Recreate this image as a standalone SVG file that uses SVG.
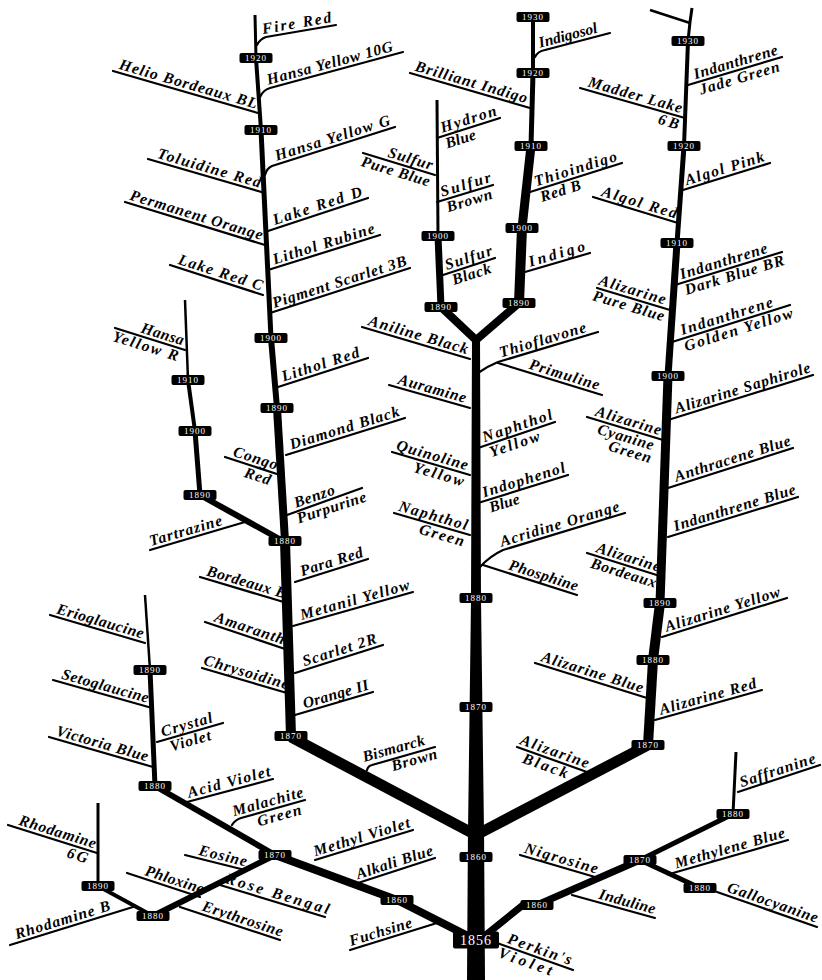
<svg xmlns="http://www.w3.org/2000/svg" width="822" height="980" viewBox="0 0 822 980">
<style>
.ln{fill:none;stroke:#000;stroke-width:2.2;stroke-linecap:round;stroke-linejoin:round}
.lb{font-family:"Liberation Serif",serif;font-style:italic;font-weight:bold;font-size:15.5px;fill:#000;text-anchor:middle}
.yr rect{fill:#000}
.yr text{font-family:"Liberation Serif",serif;font-size:9px;fill:#fff;text-anchor:middle;letter-spacing:1px}
</style>
<rect width="822" height="980" fill="#fff"/>
<g id="connectors" fill="none" stroke="#000" stroke-linecap="butt" stroke-linejoin="round">
<polygon points="467,980 485,980 484,826 468,826" fill="#000" stroke="none"/>
<polygon points="468,832 484,832 481,600 480,336 472,336 471,600" fill="#000" stroke="none"/>
<path d="M474 834 L291 737" stroke-width="11"/>
<path d="M478 834 L648 745" stroke-width="11"/>
<path d="M476 340 L441 307" stroke-width="8"/>
<path d="M476 340 L519 303" stroke-width="8"/>
<path d="M441 307 L438 236" stroke-width="7"/>
<path d="M438 236 L437 100" stroke-width="3"/>
<path d="M519 303 L522 228" stroke-width="10"/>
<path d="M522 228 L531 146" stroke-width="9"/>
<path d="M531 146 L533 73" stroke-width="5"/>
<path d="M533 73 L533 17" stroke-width="4"/>
<path d="M648 745 L653 660" stroke-width="10"/>
<path d="M653 660 L660 603" stroke-width="10"/>
<path d="M660 603 L668 376" stroke-width="9"/>
<path d="M668 376 L677 243" stroke-width="7"/>
<path d="M677 243 L684 146" stroke-width="5"/>
<path d="M684 146 L688 41" stroke-width="4"/>
<path d="M688 41 L690 22 L692 8" stroke-width="3"/>
<path d="M650 10 L690 23" stroke-width="2.5"/>
<path d="M291 736 L285 541" stroke-width="10"/>
<path d="M285 541 L277 408" stroke-width="8"/>
<path d="M277 408 L271 338" stroke-width="6"/>
<path d="M271 338 L261 130" stroke-width="5"/>
<path d="M261 130 L256 58" stroke-width="4"/>
<path d="M256 58 L255 15" stroke-width="3"/>
<path d="M283 541 L200 495" stroke-width="6"/>
<path d="M200 495 L195 431" stroke-width="5"/>
<path d="M195 431 L188 380" stroke-width="4"/>
<path d="M188 380 L185 300" stroke-width="2.5"/>
<path d="M470 937 L397 900 L275 855" stroke-width="8"/>
<path d="M275 855 L153 916" stroke-width="6"/>
<path d="M153 916 L98 886" stroke-width="4"/>
<path d="M98 886 L98 803" stroke-width="3"/>
<path d="M275 855 L155 786" stroke-width="6"/>
<path d="M155 786 L150 670" stroke-width="5"/>
<path d="M150 670 L145 595" stroke-width="2.5"/>
<path d="M482 938 L523 905 L537 905 L640 860" stroke-width="7"/>
<path d="M640 860 L733 814" stroke-width="5"/>
<path d="M733 814 L736 752" stroke-width="3"/>
<path d="M640 860 L700 888" stroke-width="5"/>
</g>
<g id="fire-red"><path class="ln" d="M257 45 Q260 39 266 37 L336 25"/><text class="lb" transform="translate(298 31.5) rotate(-9.7)" y="-3.5" textLength="70">Fire Red</text></g>
<g id="hansa-yellow-10g"><path class="ln" d="M260 97 Q263 90 270 88 L403 52"/><text class="lb" transform="translate(332 71.2) rotate(-15.1)" y="-3.5" textLength="130">Hansa Yellow 10G</text></g>
<g id="helio-bordeaux-bl"><path class="ln" d="M113 71 L258 113"/><text class="lb" transform="translate(186 92.1) rotate(16.2)" y="-3.5" textLength="143">Helio Bordeaux BL</text></g>
<g id="hansa-yellow-g"><path class="ln" d="M265 175 Q267 168 272 166 L395 127"/><text class="lb" transform="translate(335 146) rotate(-17.6)" y="-3.5" textLength="120">Hansa Yellow G</text></g>
<g id="toluidine-red"><path class="ln" d="M148 159 L265 193"/><text class="lb" transform="translate(207 176.1) rotate(16.2)" y="-3.5" textLength="107">Toluidine Red</text></g>
<g id="lake-red-d"><path class="ln" d="M268 231 L368 198"/><text class="lb" transform="translate(320 213.8) rotate(-18.3)" y="-3.5" textLength="93">Lake Red D</text></g>
<g id="permanent-orange"><path class="ln" d="M125 202 L265 245"/><text class="lb" transform="translate(194 223.2) rotate(17.1)" y="-3.5" textLength="138">Permanent Orange</text></g>
<g id="lithol-rubine"><path class="ln" d="M268 270 L380 235"/><text class="lb" transform="translate(326 251.9) rotate(-17.4)" y="-3.5" textLength="106">Lithol Rubine</text></g>
<g id="lake-red-c"><path class="ln" d="M170 265 L263 295"/><text class="lb" transform="translate(218 280.5) rotate(17.9)" y="-3.5" textLength="88">Lake Red C</text></g>
<g id="pigment-scarlet-3b"><path class="ln" d="M270 313 L410 268"/><text class="lb" transform="translate(342 289.9) rotate(-17.8)" y="-3.5" textLength="140">Pigment Scarlet 3B</text></g>
<g id="lithol-red"><path class="ln" d="M278 387 L368 358"/><text class="lb" transform="translate(323 372.5) rotate(-17.9)" y="-3.5" textLength="81">Lithol Red</text></g>
<g id="diamond-black"><path class="ln" d="M286 455 L405 418"/><text class="lb" transform="translate(347 436) rotate(-17.3)" y="-3.5" textLength="114">Diamond Black</text></g>
<g id="congo-red"><path class="ln" d="M225 457 L280 475"/><text class="lb" transform="translate(253 466.2) rotate(18.1)" y="-3.5" textLength="46">Congo</text><text class="lb" transform="translate(260 468.5) rotate(18.1)" y="13" textLength="27">Red</text></g>
<g id="benzo-purpurine"><path class="ln" d="M287 515 L362 488"/><text class="lb" transform="translate(317 504.2) rotate(-19)" y="-3.5" textLength="42">Benzo</text><text class="lb" transform="translate(329 499.9) rotate(-18)" y="13" textLength="72">Purpurine</text></g>
<g id="para-red"><path class="ln" d="M295 582 L368 559"/><text class="lb" transform="translate(334 569.7) rotate(-17.5)" y="-3.5" textLength="65">Para Red</text></g>
<g id="bordeaux-b"><path class="ln" d="M200 577 L287 603"/><text class="lb" transform="translate(244 590.2) rotate(16.6)" y="-3.5" textLength="82">Bordeaux B</text></g>
<g id="metanil-yellow"><path class="ln" d="M293 626 L413 592"/><text class="lb" transform="translate(357 607.9) rotate(-15.8)" y="-3.5" textLength="113">Metanil Yellow</text></g>
<g id="amaranth"><path class="ln" d="M205 622 L288 650"/><text class="lb" transform="translate(247 636.2) rotate(18.6)" y="-3.5" textLength="73">Amaranth</text></g>
<g id="scarlet-2r"><path class="ln" d="M295 673 L383 645"/><text class="lb" transform="translate(342 658) rotate(-17.7)" y="-3.5" textLength="77">Scarlet 2R</text></g>
<g id="chrysoidine"><path class="ln" d="M202 668 L287 693"/><text class="lb" transform="translate(244 680.3) rotate(16.4)" y="-3.5" textLength="88">Chrysoidine</text></g>
<g id="orange-ii"><path class="ln" d="M295 715 L373 692"/><text class="lb" transform="translate(338 702.3) rotate(-16.4)" y="-3.5" textLength="68">Orange II</text></g>
<g id="hansa-yellow-r"><path class="ln" d="M115 328 L185 350"/><text class="lb" transform="translate(160 342.2) rotate(17.4)" y="-3.5" textLength="44">Hansa</text><text class="lb" transform="translate(148 338.4) rotate(17.4)" y="13" textLength="68">Yellow R</text></g>
<g id="tartrazine"><path class="ln" d="M150 550 L245 522"/><text class="lb" transform="translate(188 538.8) rotate(-16.4)" y="-3.5" textLength="75">Tartrazine</text></g>
<g id="aniline-black"><path class="ln" d="M362 327 L470 359"/><text class="lb" transform="translate(416 343) rotate(16.5)" y="-3.5" textLength="103">Aniline Black</text></g>
<g id="thioflavone"><path class="ln" d="M478 373 Q488 366 498 362 L598 332"/><text class="lb" transform="translate(545 348) rotate(-16.7)" y="-3.5" textLength="90">Thioflavone</text></g>
<g id="primuline"><path class="ln" d="M498 363 L602 395"/><text class="lb" transform="translate(562 382.7) rotate(17.1)" y="-3.5" textLength="73">Primuline</text></g>
<g id="auramine"><path class="ln" d="M389 385 L470 408"/><text class="lb" transform="translate(430 396.6) rotate(15.9)" y="-3.5" textLength="70">Auramine</text></g>
<g id="naphthol-yellow"><path class="ln" d="M478 448 L555 422"/><text class="lb" transform="translate(520 433.8) rotate(-18.7)" y="-3.5" textLength="73">Naphthol</text><text class="lb" transform="translate(512 436.5) rotate(-18.7)" y="13" textLength="52">Yellow</text></g>
<g id="quinoline-yellow"><path class="ln" d="M392 452 L470 475"/><text class="lb" transform="translate(430 463.2) rotate(16.4)" y="-3.5" textLength="74">Quinoline</text><text class="lb" transform="translate(441 466.5) rotate(16.4)" y="13" textLength="52">Yellow</text></g>
<g id="indophenol-blue"><path class="ln" d="M478 503 L568 475"/><text class="lb" transform="translate(526 488) rotate(-17.3)" y="-3.5" textLength="86">Indophenol</text><text class="lb" transform="translate(502 495.5) rotate(-17.3)" y="13" textLength="31">Blue</text></g>
<g id="naphthol-green"><path class="ln" d="M394 513 L470 535"/><text class="lb" transform="translate(431 523.7) rotate(16.1)" y="-3.5" textLength="71">Naphthol</text><text class="lb" transform="translate(444 527.4) rotate(16.1)" y="13" textLength="46">Green</text></g>
<g id="acridine-orange"><path class="ln" d="M480 567 Q490 556 503 550 L625 513"/><text class="lb" transform="translate(562 532.1) rotate(-16.9)" y="-3.5" textLength="124">Acridine Orange</text></g>
<g id="phosphine"><path class="ln" d="M483 565 L577 595"/><text class="lb" transform="translate(541 583.5) rotate(17.7)" y="-3.5" textLength="72">Phosphine</text></g>
<g id="indigosol"><path class="ln" d="M535 57 Q538 51 545 50 L610 33"/><text class="lb" transform="translate(570 43.5) rotate(-14.7)" y="-3.5" textLength="60">Indigosol</text></g>
<g id="brilliant-indigo"><path class="ln" d="M410 73 L530 108"/><text class="lb" transform="translate(469 90.2) rotate(16.3)" y="-3.5" textLength="116">Brilliant Indigo</text></g>
<g id="thioindigo-red-b"><path class="ln" d="M530 192 L622 163"/><text class="lb" transform="translate(578 176.9) rotate(-17.5)" y="-3.5" textLength="86">Thioindigo</text><text class="lb" transform="translate(558 183.2) rotate(-17.5)" y="13" textLength="42">Red B</text></g>
<g id="indigo"><path class="ln" d="M525 272 L590 253"/><text class="lb" transform="translate(559 262) rotate(-16.3)" y="-3.5" textLength="58">Indigo</text></g>
<g id="hydron-blue"><path class="ln" d="M437 138 L500 118"/><text class="lb" transform="translate(471 127.2) rotate(-17.6)" y="-3.5" textLength="58">Hydron</text><text class="lb" transform="translate(458 131.3) rotate(-17.6)" y="13" textLength="31">Blue</text></g>
<g id="sulfur-pure-blue"><path class="ln" d="M363 153 L435 175"/><text class="lb" transform="translate(408 166.7) rotate(17)" y="-3.5" textLength="46">Sulfur</text><text class="lb" transform="translate(398 163.7) rotate(17)" y="13" textLength="71">Pure Blue</text></g>
<g id="sulfur-brown"><path class="ln" d="M437 202 L493 185"/><text class="lb" transform="translate(468 192.6) rotate(-16.9)" y="-3.5" textLength="52">Sulfur</text><text class="lb" transform="translate(467 192.9) rotate(-16.9)" y="13" textLength="47">Brown</text></g>
<g id="sulfur-black"><path class="ln" d="M443 275 L495 258"/><text class="lb" transform="translate(471 265.8) rotate(-18.1)" y="-3.5" textLength="49">Sulfur</text><text class="lb" transform="translate(469 266.5) rotate(-18.1)" y="13" textLength="40">Black</text></g>
<g id="indanthrene-jade-green"><path class="ln" d="M688 85 L782 57"/><text class="lb" transform="translate(738 70.1) rotate(-16.6)" y="-3.5" textLength="87">Indanthrene</text><text class="lb" transform="translate(737 70.4) rotate(-16.6)" y="13" textLength="83">Jade Green</text></g>
<g id="madder-lake-6b"><path class="ln" d="M580 88 L685 118"/><text class="lb" transform="translate(633 103.1) rotate(16)" y="-3.5" textLength="97">Madder Lake</text><text class="lb" transform="translate(671 114) rotate(16)" y="13" textLength="21">6B</text></g>
<g id="algol-pink"><path class="ln" d="M683 190 L770 163"/><text class="lb" transform="translate(727 176.4) rotate(-17.2)" y="-3.5" textLength="82">Algol Pink</text></g>
<g id="algol-red"><path class="ln" d="M593 197 L678 223"/><text class="lb" transform="translate(637 210.5) rotate(17)" y="-3.5" textLength="78">Algol Red</text></g>
<g id="indanthrene-dark-blue-br"><path class="ln" d="M675 285 L782 252"/><text class="lb" transform="translate(726 269.3) rotate(-17.1)" y="-3.5" textLength="91">Indanthrene</text><text class="lb" transform="translate(732 267.4) rotate(-17.1)" y="13" textLength="103">Dark Blue BR</text></g>
<g id="alizarine-pure-blue"><path class="ln" d="M597 288 L670 310"/><text class="lb" transform="translate(630 297.9) rotate(16.8)" y="-3.5" textLength="69">Alizarine</text><text class="lb" transform="translate(631 298.2) rotate(16.8)" y="13" textLength="74">Pure Blue</text></g>
<g id="indanthrene-golden-yellow"><path class="ln" d="M672 342 L790 305"/><text class="lb" transform="translate(729 324.1) rotate(-17.4)" y="-3.5" textLength="96">Indanthrene</text><text class="lb" transform="translate(736 321.9) rotate(-17.4)" y="13" textLength="113">Golden Yellow</text></g>
<g id="alizarine-saphirole"><path class="ln" d="M668 420 L813 375"/><text class="lb" transform="translate(745 396.1) rotate(-17.2)" y="-3.5" textLength="141">Alizarine Saphirole</text></g>
<g id="alizarine-cyanine-green"><path class="ln" d="M587 417 L663 440"/><text class="lb" transform="translate(626 428.8) rotate(16.8)" y="-3.5" textLength="68">Alizarine</text><text class="lb" transform="translate(628 429.4) rotate(16.8)" y="13" textLength="58">Cyanine</text><text class="lb" transform="translate(636 431.8) rotate(16.8)" y="26" textLength="44">Green</text></g>
<g id="anthracene-blue"><path class="ln" d="M668 488 L793 448"/><text class="lb" transform="translate(735 466.6) rotate(-17.7)" y="-3.5" textLength="121">Anthracene Blue</text></g>
<g id="indanthrene-blue"><path class="ln" d="M668 537 L798 497"/><text class="lb" transform="translate(737 515.8) rotate(-17.1)" y="-3.5" textLength="127">Indanthrene Blue</text></g>
<g id="alizarine-bordeaux"><path class="ln" d="M587 553 L663 577"/><text class="lb" transform="translate(626 565.3) rotate(17.5)" y="-3.5" textLength="66">Alizarine</text><text class="lb" transform="translate(626 565.3) rotate(17.5)" y="13" textLength="68">Bordeaux</text></g>
<g id="alizarine-yellow"><path class="ln" d="M662 637 L787 598"/><text class="lb" transform="translate(725 617.3) rotate(-17.3)" y="-3.5" textLength="120">Alizarine Yellow</text></g>
<g id="alizarine-blue"><path class="ln" d="M535 663 L647 698"/><text class="lb" transform="translate(590 680.2) rotate(17.4)" y="-3.5" textLength="106">Alizarine Blue</text></g>
<g id="alizarine-red"><path class="ln" d="M655 720 L762 690"/><text class="lb" transform="translate(710 704.6) rotate(-15.7)" y="-3.5" textLength="100">Alizarine Red</text></g>
<g id="alizarine-black"><path class="ln" d="M517 747 L587 772"/><text class="lb" transform="translate(552 759.5) rotate(19.7)" y="-3.5" textLength="72">Alizarine</text><text class="lb" transform="translate(548 758.1) rotate(19.7)" y="13" textLength="47">Black</text></g>
<g id="saffranine"><path class="ln" d="M738 792 L820 765"/><text class="lb" transform="translate(780 778.2) rotate(-18.2)" y="-3.5" textLength="79">Saffranine</text></g>
<g id="methylene-blue"><path class="ln" d="M673 873 L788 840"/><text class="lb" transform="translate(732 856.1) rotate(-16)" y="-3.5" textLength="114">Methylene Blue</text></g>
<g id="gallocyanine"><path class="ln" d="M717 892 L817 927"/><text class="lb" transform="translate(770 910.5) rotate(19.3)" y="-3.5" textLength="95">Gallocyanine</text></g>
<g id="nigrosine"><path class="ln" d="M520 855 L595 877"/><text class="lb" transform="translate(559 866.4) rotate(16.3)" y="-3.5" textLength="76">Nigrosine</text></g>
<g id="induline"><path class="ln" d="M572 895 L655 918"/><text class="lb" transform="translate(625 909.7) rotate(15.5)" y="-3.5" textLength="58">Induline</text></g>
<g id="perkins-violet"><path class="ln" d="M497 943 L573 970"/><text class="lb" transform="translate(537 957.2) rotate(19.6)" y="-3.5" textLength="67">Perkin's</text><text class="lb" transform="translate(528 954) rotate(19.6)" y="13" textLength="56">Violet</text></g>
<g id="fuchsine"><path class="ln" d="M350 950 L437 923"/><text class="lb" transform="translate(383 939.8) rotate(-17.2)" y="-3.5" textLength="65">Fuchsine</text></g>
<g id="alkali-blue"><path class="ln" d="M358 883 L435 858"/><text class="lb" transform="translate(397 870.3) rotate(-18)" y="-3.5" textLength="80">Alkali Blue</text></g>
<g id="methyl-violet"><path class="ln" d="M315 860 L413 830"/><text class="lb" transform="translate(364 845) rotate(-17)" y="-3.5" textLength="100">Methyl Violet</text></g>
<g id="rose-bengal"><path class="ln" d="M220 885 L325 917"/><text class="lb" transform="translate(275 901.8) rotate(17)" y="-3.5" textLength="108">Rose Bengal</text></g>
<g id="eosine"><path class="ln" d="M185 855 L245 870"/><text class="lb" transform="translate(221 864) rotate(14)" y="-3.5" textLength="49">Eosine</text></g>
<g id="phloxine"><path class="ln" d="M127 873 L200 897"/><text class="lb" transform="translate(172 887.8) rotate(18.2)" y="-3.5" textLength="61">Phloxine</text></g>
<g id="erythrosine"><path class="ln" d="M180 907 L280 940"/><text class="lb" transform="translate(240 926.8) rotate(18.3)" y="-3.5" textLength="84">Erythrosine</text></g>
<g id="rhodamine-b"><path class="ln" d="M10 945 L133 907"/><text class="lb" transform="translate(65 928) rotate(-17.2)" y="-3.5" textLength="99">Rhodamine B</text></g>
<g id="rhodamine-6g"><path class="ln" d="M8 825 L97 853"/><text class="lb" transform="translate(55 839.8) rotate(17.5)" y="-3.5" textLength="80">Rhodamine</text><text class="lb" transform="translate(80 847.7) rotate(17.5)" y="13" textLength="21">6G</text></g>
<g id="acid-violet"><path class="ln" d="M187 802 L273 779"/><text class="lb" transform="translate(231 790.2) rotate(-15)" y="-3.5" textLength="85">Acid Violet</text></g>
<g id="malachite-green"><path class="ln" d="M232 825 Q235 820 241 818 L305 800"/><text class="lb" transform="translate(270 809.8) rotate(-15.7)" y="-3.5" textLength="73">Malachite</text><text class="lb" transform="translate(277 807.8) rotate(-15.7)" y="13" textLength="45">Green</text></g>
<g id="crystal-violet"><path class="ln" d="M157 742 L223 723"/><text class="lb" transform="translate(189 732.8) rotate(-16.1)" y="-3.5" textLength="53">Crystal</text><text class="lb" transform="translate(188 733.1) rotate(-16.1)" y="13" textLength="42">Violet</text></g>
<g id="victoria-blue"><path class="ln" d="M49 737 L153 767"/><text class="lb" transform="translate(100 751.7) rotate(16.1)" y="-3.5" textLength="95">Victoria Blue</text></g>
<g id="setoglaucine"><path class="ln" d="M53 680 L152 708"/><text class="lb" transform="translate(103 694.1) rotate(15.8)" y="-3.5" textLength="90">Setoglaucine</text></g>
<g id="erioglaucine"><path class="ln" d="M50 615 L145 643"/><text class="lb" transform="translate(98 629.2) rotate(16.4)" y="-3.5" textLength="90">Erioglaucine</text></g>
<g id="bismarck-brown"><path class="ln" d="M367 770 Q368 766 372 765 L435 747"/><text class="lb" transform="translate(396 756.7) rotate(-15.9)" y="-3.5" textLength="64">Bismarck</text><text class="lb" transform="translate(412 752.2) rotate(-15.9)" y="13" textLength="47">Brown</text></g>
<g id="y-l1920" class="yr"><rect x="239.5" y="53" width="33" height="10" rx="2"/><text x="256" y="61.3">1920</text></g>
<g id="y-l1910" class="yr"><rect x="244.5" y="125" width="33" height="10" rx="2"/><text x="261" y="133.3">1910</text></g>
<g id="y-l1900" class="yr"><rect x="254.5" y="333" width="33" height="10" rx="2"/><text x="271" y="341.3">1900</text></g>
<g id="y-l1890" class="yr"><rect x="260.5" y="403" width="33" height="10" rx="2"/><text x="277" y="411.3">1890</text></g>
<g id="y-l1880" class="yr"><rect x="268.5" y="536" width="33" height="10" rx="2"/><text x="285" y="544.3">1880</text></g>
<g id="y-l1870" class="yr"><rect x="274.5" y="731" width="33" height="10" rx="2"/><text x="291" y="739.3">1870</text></g>
<g id="y-h1910" class="yr"><rect x="171.5" y="375" width="33" height="10" rx="2"/><text x="188" y="383.3">1910</text></g>
<g id="y-h1900" class="yr"><rect x="178.5" y="426" width="33" height="10" rx="2"/><text x="195" y="434.3">1900</text></g>
<g id="y-h1890" class="yr"><rect x="183.5" y="490" width="33" height="10" rx="2"/><text x="200" y="498.3">1890</text></g>
<g id="y-ll1890a" class="yr"><rect x="133.5" y="665" width="33" height="10" rx="2"/><text x="150" y="673.3">1890</text></g>
<g id="y-ll1880a" class="yr"><rect x="138.5" y="781" width="33" height="10" rx="2"/><text x="155" y="789.3">1880</text></g>
<g id="y-ll1870" class="yr"><rect x="258.5" y="850" width="33" height="10" rx="2"/><text x="275" y="858.3">1870</text></g>
<g id="y-ll1880b" class="yr"><rect x="136.5" y="911" width="33" height="10" rx="2"/><text x="153" y="919.3">1880</text></g>
<g id="y-ll1890b" class="yr"><rect x="81.5" y="881" width="33" height="10" rx="2"/><text x="98" y="889.3">1890</text></g>
<g id="y-ll1860" class="yr"><rect x="380.5" y="895" width="33" height="10" rx="2"/><text x="397" y="903.3">1860</text></g>
<g id="y-c1856" class="yr"><rect x="453" y="931.5" width="46" height="17" rx="2"/><text x="476" y="945" style="font-size:14px">1856</text></g>
<g id="y-c1860" class="yr"><rect x="459.5" y="852" width="33" height="10" rx="2"/><text x="476" y="860.3">1860</text></g>
<g id="y-c1870" class="yr"><rect x="459.5" y="702" width="33" height="10" rx="2"/><text x="476" y="710.3">1870</text></g>
<g id="y-c1880" class="yr"><rect x="459.5" y="593" width="33" height="10" rx="2"/><text x="476" y="601.3">1880</text></g>
<g id="y-s1890" class="yr"><rect x="424.5" y="302" width="33" height="10" rx="2"/><text x="441" y="310.3">1890</text></g>
<g id="y-s1900" class="yr"><rect x="421.5" y="231" width="33" height="10" rx="2"/><text x="438" y="239.3">1900</text></g>
<g id="y-i1890" class="yr"><rect x="502.5" y="298" width="33" height="10" rx="2"/><text x="519" y="306.3">1890</text></g>
<g id="y-i1900" class="yr"><rect x="505.5" y="223" width="33" height="10" rx="2"/><text x="522" y="231.3">1900</text></g>
<g id="y-i1910" class="yr"><rect x="514.5" y="141" width="33" height="10" rx="2"/><text x="531" y="149.3">1910</text></g>
<g id="y-i1920" class="yr"><rect x="516.5" y="68" width="33" height="10" rx="2"/><text x="533" y="76.3">1920</text></g>
<g id="y-i1930" class="yr"><rect x="516.5" y="12" width="33" height="10" rx="2"/><text x="533" y="20.3">1930</text></g>
<g id="y-r1870" class="yr"><rect x="631.5" y="740" width="33" height="10" rx="2"/><text x="648" y="748.3">1870</text></g>
<g id="y-r1880" class="yr"><rect x="636.5" y="655" width="33" height="10" rx="2"/><text x="653" y="663.3">1880</text></g>
<g id="y-r1890" class="yr"><rect x="643.5" y="598" width="33" height="10" rx="2"/><text x="660" y="606.3">1890</text></g>
<g id="y-r1900" class="yr"><rect x="651.5" y="371" width="33" height="10" rx="2"/><text x="668" y="379.3">1900</text></g>
<g id="y-r1910" class="yr"><rect x="660.5" y="238" width="33" height="10" rx="2"/><text x="677" y="246.3">1910</text></g>
<g id="y-r1920" class="yr"><rect x="667.5" y="141" width="33" height="10" rx="2"/><text x="684" y="149.3">1920</text></g>
<g id="y-r1930" class="yr"><rect x="671.5" y="36" width="33" height="10" rx="2"/><text x="688" y="44.3">1930</text></g>
<g id="y-rl1860" class="yr"><rect x="520.5" y="900" width="33" height="10" rx="2"/><text x="537" y="908.3">1860</text></g>
<g id="y-rl1870" class="yr"><rect x="623.5" y="855" width="33" height="10" rx="2"/><text x="640" y="863.3">1870</text></g>
<g id="y-rl1880a" class="yr"><rect x="716.5" y="809" width="33" height="10" rx="2"/><text x="733" y="817.3">1880</text></g>
<g id="y-rl1880b" class="yr"><rect x="683.5" y="883" width="33" height="10" rx="2"/><text x="700" y="891.3">1880</text></g>
</svg>
